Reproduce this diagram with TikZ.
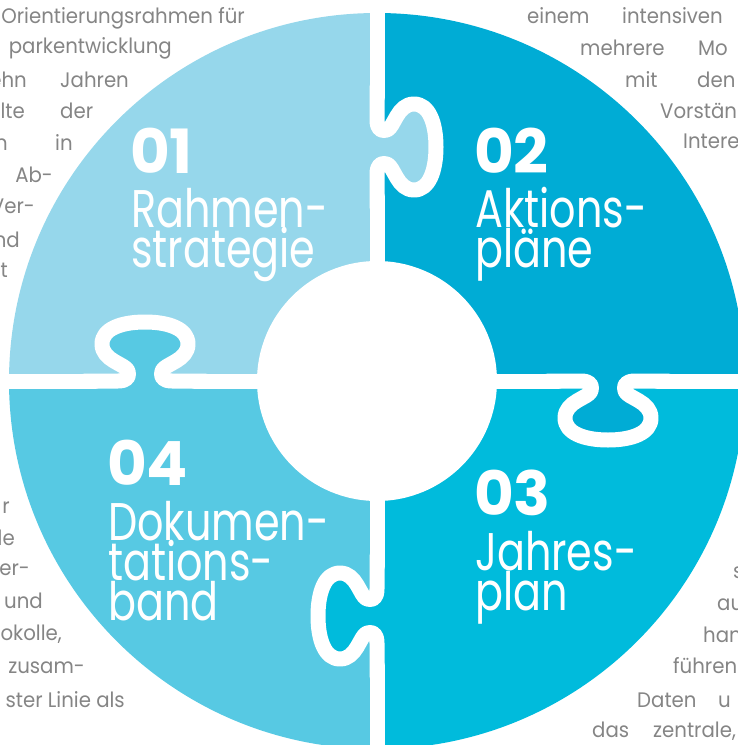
\documentclass[tikz,border=0pt]{standalone}
\usepackage{fontspec}
\setmainfont{Poppins}
\newfontfamily\labfont{Poppins}[FakeStretch=0.78]
\newfontfamily\grfont{Poppins}[FakeStretch=0.94]
\definecolor{cA}{HTML}{96D7EB}
\definecolor{cB}{HTML}{00ACD5}
\definecolor{cC}{HTML}{00BBDC}
\definecolor{cD}{HTML}{57C9E3}
\definecolor{grtext}{HTML}{858585}
\tikzset{
  gapline/.style={white, line width=15pt, line cap=round, line join=round},
  lab/.style={text=white, anchor=base west, inner sep=0pt, text height=36pt, text depth=3pt, font=\labfont\fontsize{53}{53}\selectfont},
  num/.style={text=white, anchor=base west, inner sep=0pt, text height=42pt, text depth=0pt, font=\rmfamily\bfseries\fontsize{61}{61}\selectfont},
  gt/.style={text=grtext, inner sep=0pt, text height=15pt, text depth=4pt, font=\grfont\fontsize{21}{21}\selectfont},
  gl/.style={gt, anchor=base west},
  gr/.style={gt, anchor=base east}
}
\begin{document}
\begin{tikzpicture}[x=1pt,y=-1pt]
\useasboundingbox (0,0) rectangle (737,745);
\coordinate (ctr) at (377,381);
% quadrants
\begin{scope}
  \clip (ctr) circle[radius=368];
  \fill[cA] (-10,-10) rectangle (377,381);
  \fill[cB] (377,-10) rectangle (760,381);
  \fill[cC] (377,381) rectangle (760,760);
  \fill[cD] (-10,381) rectangle (377,760);
  \foreach \px/\py/\rot/\col in {377/147/90/cA, 145/381/180/cD, 608/381/0/cB, 377/616/-90/cC}{
    \begin{scope}[shift={(\px,\py)}, rotate=\rot]
      \fill[\col] (-27,0) .. controls (-18,0) and (-15,4) .. (-17,10)
        .. controls (-19,17) and (-43,20) .. (-43,37)
        .. controls (-43,52) and (-24,59) .. (0,59)
        .. controls (24,59) and (43,52) .. (43,37)
        .. controls (43,20) and (19,17) .. (17,10)
        .. controls (15,4) and (18,0) .. (27,0) -- cycle;
    \end{scope}
  }
\end{scope}
% white gaps
\draw[gapline] (377,-20) -- (377,97);
\draw[gapline] (377,197) -- (377,566);
\draw[gapline] (377,666) -- (377,760);
\draw[gapline] (-20,381) -- (95,381);
\draw[gapline] (195,381) -- (558,381);
\draw[gapline] (658,381) -- (760,381);
\foreach \px/\py/\rot in {377/147/90, 145/381/180, 608/381/0, 377/616/-90}{
  \begin{scope}[shift={(\px,\py)}, rotate=\rot]
    \draw[gapline] (-60,0) -- (-27,0) .. controls (-18,0) and (-15,4) .. (-17,10)
      .. controls (-19,17) and (-43,20) .. (-43,37)
      .. controls (-43,52) and (-24,59) .. (0,59)
      .. controls (24,59) and (43,52) .. (43,37)
      .. controls (43,20) and (19,17) .. (17,10)
      .. controls (15,4) and (18,0) .. (27,0) -- (60,0);
  \end{scope}
}
\fill[white] (ctr) circle[radius=120];
% labels
\node[num] (n1) at (130,173) {01};
\node[lab] (l1a) at (131,227) {Rahmen-};
\node[lab] (l1b) at (131,267) {strategie};
\node[num] (n2) at (474,173) {02};
\node[lab] (l2a) at (475,227) {Aktions-};
\node[lab] (l2b) at (475,267) {pläne};
\node[num] (n3) at (474,515) {03};
\node[lab] (l3a) at (475,570) {Jahres-};
\node[lab] (l3b) at (475,610) {plan};
\node[num] (n4) at (107,485) {04};
\node[lab] (l4a) at (108,540) {Dokumen-};
\node[lab] (l4b) at (108,580) {tations-};
\node[lab] (l4c) at (108,620) {band};
% grey text top left
\node[gr] (t1) at (245,23) {Orientierungsrahmen für};
\node[gr] (t2) at (172,53) {parkentwicklung};
\node[gr] (t3) at (27,87) {ehn};
\node[gl] (t3b) at (60,87) {Jahren};
\node[gr] (t4) at (25,118) {lte};
\node[gl] (t4b) at (60,118) {der};
\node[gr] (t5) at (8,150) {n};
\node[gl] (t5b) at (55,150) {in};
\node[gr] (t6) at (53,182) {Ab-};
\node[gr] (t7) at (35,213) {Ver-};
\node[gr] (t8) at (20,247) {nd};
\node[gr] (t9) at (8,277) {rt};
% grey text top right
\node[gl] (u1) at (527,23) {einem};
\node[gl] (u1b) at (622,23) {intensiven};
\node[gl] (u2) at (580,55) {mehrere};
\node[gl] (u2b) at (698,55) {Mo};
\node[gl] (u3) at (625,87) {mit};
\node[gl] (u3b) at (697,87) {den};
\node[gl] (u4) at (660,118) {Vorstän};
\node[gl] (u5) at (683,148) {Intere};
% grey text bottom left
\node[gr] (v0) at (10,513) {r};
\node[gr] (v1) at (15,545) {le};
\node[gr] (v2) at (30,575) {ber-};
\node[gr] (v3) at (43,608) {und};
\node[gr] (v4) at (62,640) {okolle,};
\node[gr] (v5) at (85,673) {zusam-};
\node[gr] (v6) at (125,707) {ster Linie als};
% grey text bottom right
\node[gl] (w1) at (733,578) {s};
\node[gl] (w2) at (717,610) {au};
\node[gl] (w3) at (703,642) {han};
\node[gl] (w4) at (673,673) {führen};
\node[gl] (w5) at (637,707) {Daten};
\node[gl] (w5b) at (718,707) {u};
\node[gl] (w6) at (592,737) {das};
\node[gl] (w6b) at (653,737) {zentrale,};
\end{tikzpicture}
\end{document}
